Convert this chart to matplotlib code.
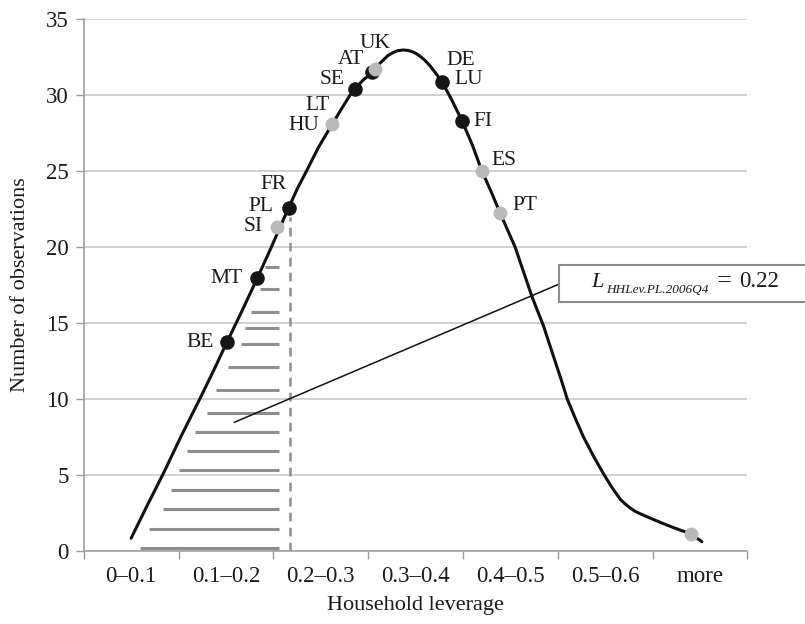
import matplotlib
matplotlib.use("Agg")
import matplotlib.pyplot as plt
from matplotlib.patches import Rectangle

# Fuentes tipo Times
plt.rcParams['font.family'] = ['Liberation Serif', 'DejaVu Serif']

# Datos
categorias = ["0–0.1", "0.1–0.2", "0.2–0.3", "0.3–0.4", "0.4–0.5", "0.5–0.6", "more"]

curva_x = [0.00, 0.17, 0.34, 0.535, 0.74, 0.88, 1.01, 1.17, 1.33, 1.48, 1.57, 1.66,
           1.75, 1.85, 1.98, 2.12, 2.22, 2.31, 2.36, 2.45, 2.54, 2.57, 2.61, 2.66,
           2.71, 2.76, 2.81, 2.87, 2.92, 2.97, 3.01, 3.05, 3.10, 3.15, 3.21, 3.28,
           3.38, 3.49, 3.60, 3.70, 3.80, 3.89, 4.05, 4.23, 4.35, 4.45, 4.54, 4.60,
           4.68, 4.77, 4.88, 4.99, 5.08, 5.16, 5.21, 5.26, 5.31, 5.37, 5.51, 5.65,
           5.78, 5.91, 6.02]
curva_y = [0.84, 3.0, 5.1, 7.65, 10.2, 12.0, 13.73, 15.8, 17.94, 20.0, 21.3, 22.55,
           23.8, 25.0, 26.6, 28.07, 29.1, 30.0, 30.4, 31.0, 31.45, 31.7, 32.0, 32.3,
           32.6, 32.78, 32.91, 32.96, 32.93, 32.84, 32.71, 32.54, 32.27, 31.94, 31.46, 30.85,
           29.7, 28.3, 26.7, 25.0, 23.6, 22.26, 20.0, 16.7, 14.8, 12.9, 11.2, 10.0,
           8.8, 7.52, 6.2, 5.0, 4.1, 3.4, 3.1, 2.85, 2.63, 2.45, 2.07, 1.71,
           1.4, 1.12, 0.61]

# Países (puntos negros y grises)
negros = ["BE", "MT", "PL", "SE", "AT", "DE", "FI"]
negros_x = [1.01, 1.33, 1.66, 2.36, 2.54, 3.28, 3.49]
negros_y = [13.73, 17.94, 22.55, 30.4, 31.5, 30.88, 28.3]

grises = ["SI", "HU", "UK", "ES", "PT", "more"]
grises_x = [1.54, 2.12, 2.57, 3.70, 3.89, 5.91]
grises_y = [21.3, 28.07, 31.7, 25.0, 22.26, 1.12]

# Área rayada bajo la curva (hasta L = 0.22)
rayas_y = [18.7, 17.24, 15.7, 14.7, 13.6, 12.1, 10.6, 9.1, 7.83, 6.6, 5.33, 4.03, 2.74, 1.45, 0.18]
rayas_x0 = [1.41, 1.36, 1.26, 1.20, 1.16, 1.02, 0.89, 0.80, 0.67, 0.59, 0.51, 0.42, 0.34, 0.19, 0.09]
rayas_x1 = 1.56
linea_pl_x = 1.68
linea_pl_y = 22.0

# Etiquetas: (texto, punto, dx, dy, alineación) desplazamientos en puntos
etiquetas = [
    ("BE", "BE", -9.6, 0, "right"),
    ("MT", "MT", -10.8, 0, "right"),
    ("SI", "SI", -10, 0.5, "right"),
    ("PL", "PL", -10.8, 1.2, "right"),
    ("FR", "PL", -1.2, 16.8, "right"),
    ("HU", "HU", -9.4, -1.2, "right"),
    ("LT", "HU", -1.7, 13.2, "right"),
    ("SE", "SE", -7.7, 6.7, "right"),
    ("AT", "AT", -5.5, 8.9, "right"),
    ("UK", "UK", 0.5, 18.7, "center"),
    ("DE", "DE", 3.1, 15.1, "left"),
    ("LU", "DE", 9.1, 1.2, "left"),
    ("FI", "FI", 8.4, -0.7, "left"),
    ("ES", "ES", 7.2, 7.2, "left"),
    ("PT", "PT", 9.1, 4.8, "left"),
]

posiciones = {}
for n, x, y in zip(negros, negros_x, negros_y):
    posiciones[n] = (x, y)
for n, x, y in zip(grises, grises_x, grises_y):
    posiciones[n] = (x, y)

fig = plt.figure(figsize=(8.05, 6.24), dpi=100)
ax = fig.add_axes([0.104, 0.117, 0.8244, 0.8526])

gris_eje = "#9a9a9a"
ax.set_xlim(-0.5, 6.5)
ax.set_ylim(0, 35)
ax.set_yticks(range(0, 36, 5))
ax.set_xticks([i - 0.5 for i in range(8)])
ax.set_xticklabels([])
ax.set_xticks(range(7), minor=True)
ax.set_xticklabels(categorias, minor=True)
ax.tick_params(axis="x", which="minor", length=0, pad=11, labelsize=16.5, labelcolor="#1a1a1a")
ax.tick_params(axis="x", which="major", length=6, color=gris_eje, width=1)
ax.tick_params(axis="y", length=6, color=gris_eje, width=1, pad=5, labelsize=16.5,
               labelcolor="#1a1a1a")
ax.grid(axis="y", color="#c4c4c4", linewidth=1.1, zorder=0)
ax.set_axisbelow(True)
for lado in ["top", "right"]:
    ax.spines[lado].set_visible(False)
for lado in ["left", "bottom"]:
    ax.spines[lado].set_color(gris_eje)
    ax.spines[lado].set_linewidth(1.1)

# Rayas grises
ax.hlines(rayas_y, rayas_x0, rayas_x1, color="#8e8e8e", linewidth=2.2, zorder=2)
ax.vlines(linea_pl_x, 0, linea_pl_y, color="#8e8e8e", linewidth=1.8,
          linestyles=(0, (3.5, 2.5)), zorder=2)

# Curva
ax.plot(curva_x, curva_y, color="#111111", linewidth=2.2, zorder=3,
        solid_joinstyle="round", solid_capstyle="round")

# Línea hacia el recuadro
ax.plot([1.09, 4.53], [8.47, 17.6], color="#111111", linewidth=1.1, zorder=3, clip_on=False)

# Puntos
ax.scatter(negros_x, negros_y, s=110, color="#151515", zorder=4, linewidths=0)
ax.scatter(grises_x, grises_y, s=100, color="#b9b9b9", zorder=5, linewidths=0)

for texto, punto, dx, dy, ha in etiquetas:
    ax.annotate(texto, posiciones[punto], xytext=(dx, dy), textcoords="offset points",
                ha=ha, va="center", fontsize=15.5, color="#1a1a1a", zorder=6)

ax.set_xlabel("Household leverage", fontsize=16, labelpad=6, color="#1a1a1a")
ax.set_ylabel("Number of observations", fontsize=16, labelpad=11, color="#1a1a1a")

# Recuadro con el valor de L
fig.patches.append(Rectangle((559 / 805, 1 - 301.7 / 624), 0.4, 36.7 / 624,
                             transform=fig.transFigure, facecolor="white",
                             edgecolor="#8a8a8a", linewidth=1.5, zorder=5))
fig.text(591.7 / 805, 1 - 286.7 / 624, "L", fontsize=16, style="italic",
         va="baseline", ha="left", color="#1a1a1a", zorder=6)
fig.text(605.7 / 805, 1 - 293.3 / 624, "HHLev.PL.2006Q4", fontsize=9.5, style="italic",
         va="baseline", ha="left", color="#1a1a1a", zorder=6)
fig.text(716.7 / 805, 1 - 286.7 / 624, "=", fontsize=19,
         va="baseline", ha="left", color="#1a1a1a", zorder=6)
fig.text(739.3 / 805, 1 - 286.7 / 624, "0.22", fontsize=16.5,
         va="baseline", ha="left", color="#1a1a1a", zorder=6)

plt.savefig("out.png", dpi=100)
